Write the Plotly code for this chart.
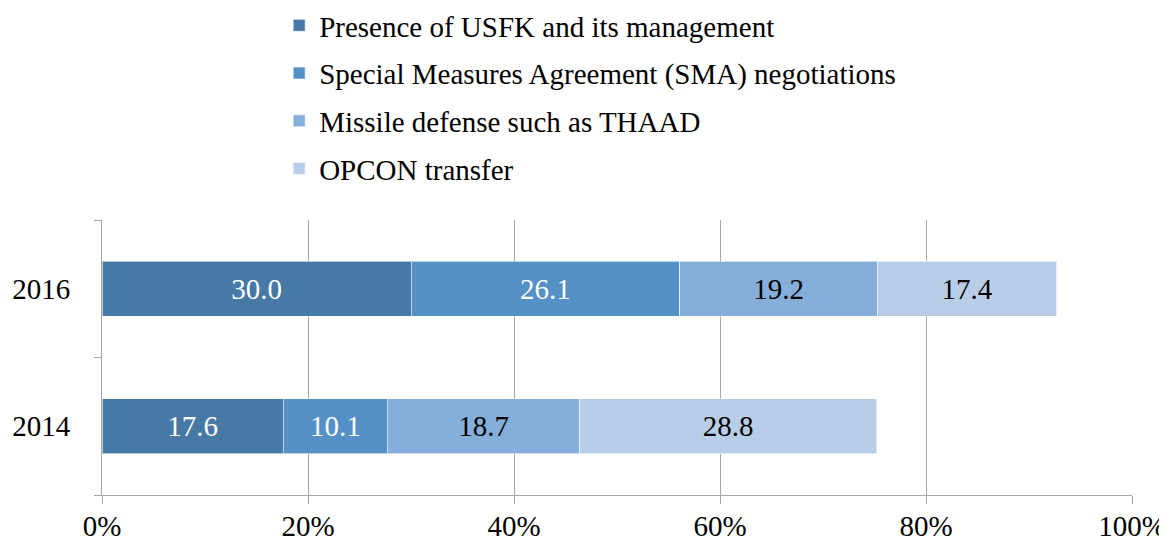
import plotly.graph_objects as go

YEARS = ["2014", "2016"]
SERIES = [
    "Presence of USFK and its management",
    "Special Measures Agreement (SMA) negotiations",
    "Missile defense such as THAAD",
    "OPCON transfer",
]
VALUES = {
    "Presence of USFK and its management": [17.6, 30.0],
    "Special Measures Agreement (SMA) negotiations": [10.1, 26.1],
    "Missile defense such as THAAD": [18.7, 19.2],
    "OPCON transfer": [28.8, 17.4],
}
X_TICKS = [0, 20, 40, 60, 80, 100]
X_TICK_TEXT = ["0%", "20%", "40%", "60%", "80%", "100%"]

COLORS = ["#4779A7", "#5591C7", "#85AEDB", "#B8CDE8"]
TEXT_COLORS = ["white", "white", "black", "black"]

FONT = "Liberation Serif, Times New Roman, serif"
FS = 29

fig = go.Figure()
for i, name in enumerate(SERIES):
    fig.add_trace(go.Bar(
        y=YEARS,
        x=VALUES[name],
        name=name,
        orientation="h",
        legendgroup=name,
        marker=dict(color=COLORS[i], line=dict(color="rgba(255,255,255,0.6)", width=1)),
        text=[f"{v:.1f}" for v in VALUES[name]],
        textposition="inside",
        insidetextanchor="middle",
        textangle=0,
        constraintext="none",
        textfont=dict(family=FONT, size=FS, color=TEXT_COLORS[i]),
        hoverinfo="skip",
    ))

# page body has an 8px margin, so the figure is shrunk by 8px and margins shifted
fig.update_layout(
    barmode="stack",
    bargap=0.6,
    width=1159,
    height=533,
    margin=dict(l=94, r=35, t=212, b=46, autoexpand=False),
    paper_bgcolor="white",
    plot_bgcolor="white",
    font=dict(family=FONT, size=FS, color="black"),
    showlegend=True,
    legend=dict(
        x=0.172, y=1.80, xanchor="left", yanchor="top",
        orientation="v",
        traceorder="grouped",
        tracegroupgap=7,
        font=dict(family=FONT, size=FS, color="black"),
        bgcolor="rgba(0,0,0,0)",
    ),
    xaxis=dict(
        range=[0, 100],
        tickmode="array",
        tickvals=X_TICKS,
        ticktext=X_TICK_TEXT,
        showgrid=True,
        gridcolor="#A6A6A6",
        gridwidth=1,
        showline=True,
        linecolor="#A6A6A6",
        linewidth=1,
        ticks="outside",
        ticklen=8,
        tickcolor="#A6A6A6",
        zeroline=False,
        automargin=False,
        ticklabelstandoff=-3,
        tickfont=dict(family=FONT, size=FS),
    ),
    yaxis=dict(
        type="category",
        categoryorder="array",
        categoryarray=YEARS,
        showline=True,
        linecolor="#A6A6A6",
        linewidth=1,
        ticks="outside",
        tickson="boundaries",
        ticklen=7,
        tickcolor="#A6A6A6",
        showgrid=False,
        automargin=False,
        ticklabelstandoff=25,
        tickfont=dict(family=FONT, size=FS),
    ),
)

fig.write_html("out.html")
